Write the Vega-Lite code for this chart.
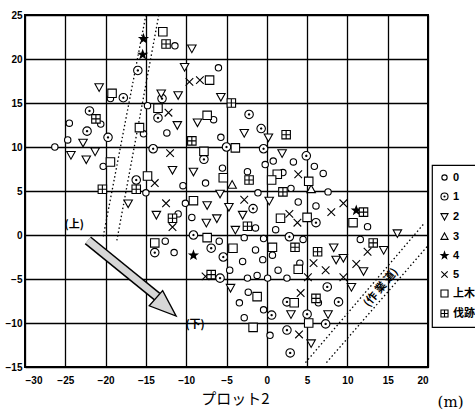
{
  "$schema": "https://vega.github.io/schema/vega-lite/v6.json",
  "width": 403,
  "height": 352,
  "autosize": "none",
  "padding": {"left": 25, "top": 15, "right": 47, "bottom": 50},
  "background": "white",
  "config": {
    "view": {"stroke": "black", "strokeWidth": 2},
    "axis": {"grid": true, "gridColor": "black", "gridWidth": 1.3, "gridOpacity": 1, "domain": false, "ticks": false,
      "labelFont": "Liberation Sans", "labelFontWeight": "bold", "labelFontSize": 10, "labelColor": "black"},
    "legend": {"orient": "none", "legendX": 407, "legendY": 150, "strokeColor": "black", "strokeWidth": 1.2, "padding": 7, "rowPadding": 7,
      "labelFont": "Liberation Sans, Noto Sans CJK JP", "labelFontWeight": "bold", "labelFontSize": 11, "labelColor": "black",
      "symbolSize": 50, "symbolStrokeWidth": 1.1, "labelOffset": 3}
  },
  "datasets": {
    "pts": [
      {"x":-11.4,"y":21.5,"t":"0"},{"x":-6.0,"y":19.0,"t":"0"},{"x":-19.4,"y":15.5,"t":"0"},{"x":-14.8,"y":14.7,"t":"0"},{"x":-12.4,"y":11.6,"t":"0"},
      {"x":-20.6,"y":12.6,"t":"0"},{"x":-24.5,"y":12.7,"t":"0"},{"x":-24.7,"y":10.8,"t":"0"},{"x":-26.3,"y":10.0,"t":"0"},{"x":-20.3,"y":7.8,"t":"0"},
      {"x":-15.3,"y":11.5,"t":"0"},{"x":-6.6,"y":13.1,"t":"0"},{"x":-5.7,"y":11.1,"t":"0"},{"x":-5.5,"y":7.6,"t":"0"},{"x":-7.6,"y":5.9,"t":"0"},
      {"x":-10.4,"y":5.6,"t":"0"},{"x":0.8,"y":8.4,"t":"0"},{"x":-0.2,"y":8.0,"t":"0"},{"x":3.3,"y":8.3,"t":"0"},{"x":5.9,"y":7.8,"t":"0"},
      {"x":7.0,"y":7.0,"t":"0"},{"x":-2.4,"y":7.2,"t":"0"},{"x":2.0,"y":7.1,"t":"0"},{"x":7.6,"y":4.9,"t":"0"},{"x":3.0,"y":5.3,"t":"0"},
      {"x":-1.1,"y":4.8,"t":"0"},{"x":-15.0,"y":4.8,"t":"0"},{"x":-10.1,"y":3.6,"t":"0"},{"x":-11.0,"y":2.4,"t":"0"},{"x":-9.3,"y":2.0,"t":"0"},
      {"x":-1.4,"y":0.8,"t":"0"},{"x":-5.9,"y":-0.7,"t":"0"},{"x":-12.6,"y":-0.7,"t":"0"},{"x":-11.5,"y":-2.0,"t":"0"},{"x":-4.6,"y":-4.0,"t":"0"},
      {"x":-3.4,"y":-7.7,"t":"0"},{"x":-3.0,"y":-3.0,"t":"0"},{"x":-1.4,"y":-1.7,"t":"0"},{"x":-2.3,"y":-6.5,"t":"0"},{"x":-2.8,"y":-9.4,"t":"0"},
      {"x":3.9,"y":3.75,"t":"0"},{"x":6.1,"y":3.3,"t":"0"},{"x":12.5,"y":0.95,"t":"0"},{"x":1.1,"y":0.6,"t":"0"},{"x":-2.8,"y":-0.3,"t":"0"},
      {"x":-0.4,"y":-0.4,"t":"0"},{"x":4.5,"y":-0.5,"t":"0"},{"x":0.7,"y":-2.3,"t":"0"},{"x":1.4,"y":-4.0,"t":"0"},{"x":-0.5,"y":-2.8,"t":"0"},
      {"x":4.1,"y":-3.2,"t":"0"},{"x":11.6,"y":-0.5,"t":"0"},{"x":-2.4,"y":-4.9,"t":"0"},{"x":-1.2,"y":-4.6,"t":"0"},{"x":0.1,"y":-4.9,"t":"0"},
      {"x":2.5,"y":-4.9,"t":"0"},{"x":-0.4,"y":-8.5,"t":"0"},{"x":6.4,"y":-7.7,"t":"0"},{"x":0.4,"y":-11.4,"t":"0"},
      {"x":-16.0,"y":18.7,"t":"1"},{"x":-17.8,"y":15.6,"t":"1"},{"x":-13.0,"y":15.5,"t":"1"},{"x":-13.5,"y":13.3,"t":"1"},{"x":-22.0,"y":14.1,"t":"1"},
      {"x":-22.3,"y":11.8,"t":"1"},{"x":-19.7,"y":11.1,"t":"1"},{"x":-14.1,"y":9.8,"t":"1"},{"x":-5.0,"y":10.0,"t":"1"},{"x":-7.8,"y":8.6,"t":"1"},
      {"x":-16.2,"y":6.25,"t":"1"},{"x":-2.2,"y":13.7,"t":"1"},{"x":-0.7,"y":12.1,"t":"1"},{"x":-0.4,"y":9.8,"t":"1"},{"x":4.9,"y":9.0,"t":"1"},
      {"x":-1.7,"y":3.0,"t":"1"},{"x":-9.1,"y":0.0,"t":"1"},{"x":-13.9,"y":-2.0,"t":"1"},{"x":-6.9,"y":-1.5,"t":"1"},{"x":-5.4,"y":-2.5,"t":"1"},
      {"x":-5.8,"y":-4.9,"t":"1"},{"x":6.1,"y":1.4,"t":"1"},{"x":2.8,"y":-0.2,"t":"1"},{"x":7.5,"y":-5.9,"t":"1"},{"x":2.5,"y":-7.6,"t":"1"},
      {"x":8.9,"y":-7.6,"t":"1"},{"x":5.0,"y":-9.0,"t":"1"},{"x":0.6,"y":-9.1,"t":"1"},{"x":2.5,"y":-10.8,"t":"1"},{"x":7.3,"y":-10.1,"t":"1"},
      {"x":2.9,"y":-13.4,"t":"1"},
      {"x":-9.3,"y":21.2,"t":"2"},{"x":-10.2,"y":19.1,"t":"2"},{"x":-20.8,"y":16.8,"t":"2"},{"x":-13.1,"y":16.1,"t":"2"},{"x":-11.0,"y":15.9,"t":"2"},
      {"x":-5.7,"y":15.7,"t":"2"},{"x":-11.1,"y":12.5,"t":"2"},{"x":-22.8,"y":10.5,"t":"2"},{"x":-24.3,"y":9.1,"t":"2"},{"x":-22.4,"y":8.6,"t":"2"},
      {"x":-21.3,"y":9.5,"t":"2"},{"x":-8.6,"y":12.8,"t":"2"},{"x":-11.7,"y":7.4,"t":"2"},{"x":-9.1,"y":7.2,"t":"2"},{"x":-5.8,"y":4.7,"t":"2"},
      {"x":-2.8,"y":11.6,"t":"2"},{"x":0.2,"y":11.1,"t":"2"},{"x":1.9,"y":9.3,"t":"2"},{"x":-7.4,"y":3.4,"t":"2"},{"x":-4.7,"y":3.2,"t":"2"},
      {"x":-13.7,"y":2.3,"t":"2"},{"x":-7.5,"y":1.4,"t":"2"},{"x":-6.2,"y":1.9,"t":"2"},{"x":-3.0,"y":2.3,"t":"2"},{"x":-3.9,"y":0.6,"t":"2"},
      {"x":-17.2,"y":3.6,"t":"2"},{"x":-4.5,"y":-6.0,"t":"2"},{"x":0.3,"y":3.9,"t":"2"},{"x":8.3,"y":-1.4,"t":"2"},{"x":8.6,"y":-2.8,"t":"2"},
      {"x":9.5,"y":-2.6,"t":"2"},{"x":14.5,"y":-1.7,"t":"2"},{"x":12.0,"y":-4.1,"t":"2"},{"x":16.2,"y":0.2,"t":"2"},{"x":10.5,"y":-5.9,"t":"2"},
      {"x":3.0,"y":-9.0,"t":"2"},{"x":7.6,"y":-9.0,"t":"2"},{"x":5.5,"y":-12.3,"t":"2"},
      {"x":-4.3,"y":5.7,"t":"3"},{"x":5.5,"y":5.2,"t":"3"},
      {"x":-15.3,"y":22.3,"t":"4"},{"x":-15.4,"y":20.5,"t":"4"},{"x":-9.1,"y":-2.3,"t":"4"},{"x":11.1,"y":2.8,"t":"4"},
      {"x":-9.6,"y":17.4,"t":"5"},{"x":-8.3,"y":17.6,"t":"5"},{"x":-12.2,"y":13.9,"t":"5"},{"x":-12.0,"y":9.3,"t":"5"},{"x":-13.9,"y":5.9,"t":"5"},
      {"x":3.9,"y":6.9,"t":"5"},{"x":-12.5,"y":3.6,"t":"5"},{"x":-2.8,"y":4.0,"t":"5"},{"x":-11.7,"y":0.9,"t":"5"},{"x":-7.6,"y":-4.7,"t":"5"},
      {"x":8.0,"y":2.6,"t":"5"},{"x":9.5,"y":3.6,"t":"5"},{"x":2.8,"y":2.4,"t":"5"},{"x":3.8,"y":1.4,"t":"5"},{"x":5.8,"y":-3.2,"t":"5"},
      {"x":7.3,"y":-4.0,"t":"5"},{"x":9.5,"y":-4.8,"t":"5"},{"x":5.1,"y":-4.8,"t":"5"},{"x":12.5,"y":-1.9,"t":"5"},{"x":11.1,"y":-3.3,"t":"5"},
      {"x":4.2,"y":-6.6,"t":"5"},{"x":4.0,"y":-11.3,"t":"5"},
      {"x":-12.9,"y":23.1,"t":"上木"},{"x":-7.1,"y":17.6,"t":"上木"},{"x":-19.2,"y":16.1,"t":"上木"},{"x":-13.5,"y":14.4,"t":"上木"},{"x":-19.4,"y":8.3,"t":"上木"},
      {"x":-15.8,"y":12.2,"t":"上木"},{"x":-7.4,"y":13.6,"t":"上木"},{"x":-3.9,"y":9.9,"t":"上木"},{"x":-7.8,"y":9.5,"t":"上木"},{"x":-5.4,"y":6.5,"t":"上木"},
      {"x":-14.8,"y":6.7,"t":"上木"},{"x":1.3,"y":6.9,"t":"上木"},{"x":0.6,"y":6.25,"t":"上木"},{"x":5.2,"y":6.1,"t":"上木"},{"x":-9.1,"y":3.9,"t":"上木"},
      {"x":-13.9,"y":-0.9,"t":"上木"},{"x":-7.4,"y":-0.3,"t":"上木"},{"x":-4.2,"y":-1.5,"t":"上木"},{"x":-1.2,"y":-7.0,"t":"上木"},{"x":-1.7,"y":-10.5,"t":"上木"},
      {"x":10.7,"y":1.4,"t":"上木"},{"x":1.7,"y":1.9,"t":"上木"},{"x":5.0,"y":2.0,"t":"上木"},{"x":0.7,"y":-1.4,"t":"上木"},{"x":3.9,"y":-3.9,"t":"上木"},
      {"x":3.4,"y":-7.7,"t":"上木"},{"x":5.2,"y":-10.0,"t":"上木"},
      {"x":-12.5,"y":21.7,"t":"伐跡"},{"x":-4.4,"y":15.0,"t":"伐跡"},{"x":-21.2,"y":13.2,"t":"伐跡"},{"x":-9.3,"y":10.7,"t":"伐跡"},{"x":-16.2,"y":5.2,"t":"伐跡"},
      {"x":-20.4,"y":5.2,"t":"伐跡"},{"x":2.4,"y":11.4,"t":"伐跡"},{"x":-2.2,"y":6.25,"t":"伐跡"},{"x":2.0,"y":4.9,"t":"伐跡"},{"x":-11.7,"y":1.9,"t":"伐跡"},
      {"x":-2.4,"y":1.0,"t":"伐跡"},{"x":-6.9,"y":-4.5,"t":"伐跡"},{"x":12.0,"y":2.6,"t":"伐跡"},{"x":3.5,"y":-1.4,"t":"伐跡"},{"x":6.3,"y":-1.9,"t":"伐跡"},
      {"x":13.2,"y":-0.9,"t":"伐跡"},{"x":6.1,"y":-7.2,"t":"伐跡"}
    ],
    "lines": [
      {"x":-15.0,"y":25,"x2":-20.3,"y2":-0.2},
      {"x":-13.4,"y":25,"x2":-18.6,"y2":-0.6},
      {"x":4.8,"y":-14.5,"x2":19.6,"y2":1.4},
      {"x":7.4,"y":-14.5,"x2":20.0,"y2":-1.2}
    ],
    "arrow": [{"x":-22.2,"y":-0.6,"x2":-13.6,"y2":-7.0}],
    "head": [{"x":-12.5,"y":-8.2}],
    "notes": [{"x":-23.9,"y":1.1,"text":"(上)"},{"x":-8.9,"y":-10.2,"text":"(下)"}],
    "road": [{"x":14.2,"y":-6.0,"text":"(作 業 道)"}],
    "unit": [{"x":22.8,"y":-19.0,"text":"(m)"}]
  },
  "encoding": {
    "x": {"field": "x", "type": "quantitative",
      "scale": {"domain": [-30, 20], "nice": false, "zero": false},
      "axis": {"values": [-30,-25,-20,-15,-10,-5,0,5,10,15,20], "labelPadding": 8, "title": "プロット2",
        "titleFont": "Noto Sans CJK JP", "titleFontSize": 15, "titleFontWeight": "normal", "titleColor": "black", "titlePadding": 6, "titleX": 210}},
    "y": {"field": "y", "type": "quantitative",
      "scale": {"domain": [-15, 25], "nice": false, "zero": false},
      "axis": {"values": [-15,-10,-5,0,5,10,15,20,25], "labelPadding": 3, "title": null}}
  },
  "layer": [
    {"data": {"name": "lines"}, "mark": {"type": "rule", "color": "black", "strokeWidth": 1.3, "strokeDash": [1.5, 2.5]},
      "encoding": {"x2": {"field": "x2"}, "y2": {"field": "y2"}}},
    {"data": {"name": "arrow"}, "mark": {"type": "rule", "color": "black", "strokeWidth": 10, "strokeCap": "butt"},
      "encoding": {"x2": {"field": "x2"}, "y2": {"field": "y2"}}},
    {"data": {"name": "arrow"}, "mark": {"type": "rule", "color": "#d6d6d6", "strokeWidth": 7, "strokeCap": "butt"},
      "encoding": {"x2": {"field": "x2"}, "y2": {"field": "y2"}}},
    {"data": {"name": "head"}, "mark": {"type": "point", "filled": true, "fill": "#d6d6d6", "stroke": "black", "strokeWidth": 1.3,
      "shape": "M1,0L-1,-0.75L-1,0.75Z", "size": 729, "angle": 41.5, "opacity": 1}},
    {"data": {"name": "pts"}, "mark": {"type": "point", "filled": true, "strokeWidth": 1.1, "size": 72, "opacity": 1},
      "encoding": {
        "shape": {"field": "t", "type": "nominal", "title": null,
          "scale": {"domain": ["0","1","2","3","4","5","上木","伐跡"],
            "range": [
              "M-0.75,0A0.75,0.75 0 1,0 0.75,0A0.75,0.75 0 1,0 -0.75,0Z",
              "M-1,0A1,1 0 1,0 1,0A1,1 0 1,0 -1,0Z M-0.15,0A0.15,0.15 0 1,0 0.15,0A0.15,0.15 0 1,0 -0.15,0Z",
              "M-1,-0.8L1,-0.8L0,1Z",
              "M-1,0.8L1,0.8L0,-1Z",
              "M0,-1L0.235,-0.324L0.951,-0.309L0.38,0.124L0.588,0.809L0,0.4L-0.588,0.809L-0.38,0.124L-0.951,-0.309L-0.235,-0.324Z",
              "M-0.9,-0.9L0.9,0.9M-0.9,0.9L0.9,-0.9",
              "M-1,-1L1,-1L1,1L-1,1Z",
              "M-1,-1L1,-1L1,1L-1,1Z M0,-1L0,1M-1,0L1,0"
            ]}},
        "fill": {"field": "t", "type": "nominal", "title": null,
          "scale": {"domain": ["0","1","2","3","4","5","上木","伐跡"],
            "range": ["white","white","white","white","black","white","white","white"]}},
        "stroke": {"field": "t", "type": "nominal", "title": null,
          "scale": {"domain": ["0","1","2","3","4","5","上木","伐跡"],
            "range": ["black","black","black","black","black","black","black","black"]}}
      }},
    {"data": {"name": "notes"}, "mark": {"type": "text", "font": "Noto Sans CJK JP", "fontSize": 11, "fontWeight": "bold", "color": "black"},
      "encoding": {"text": {"field": "text"}}},
    {"data": {"name": "road"}, "mark": {"type": "text", "font": "Noto Sans CJK JP", "fontSize": 11, "fontWeight": "bold", "color": "black", "angle": -50},
      "encoding": {"text": {"field": "text"}}},
    {"data": {"name": "unit"}, "mark": {"type": "text", "font": "DejaVu Serif", "fontSize": 15, "color": "black", "clip": false},
      "encoding": {"text": {"field": "text"}}}
  ]
}
